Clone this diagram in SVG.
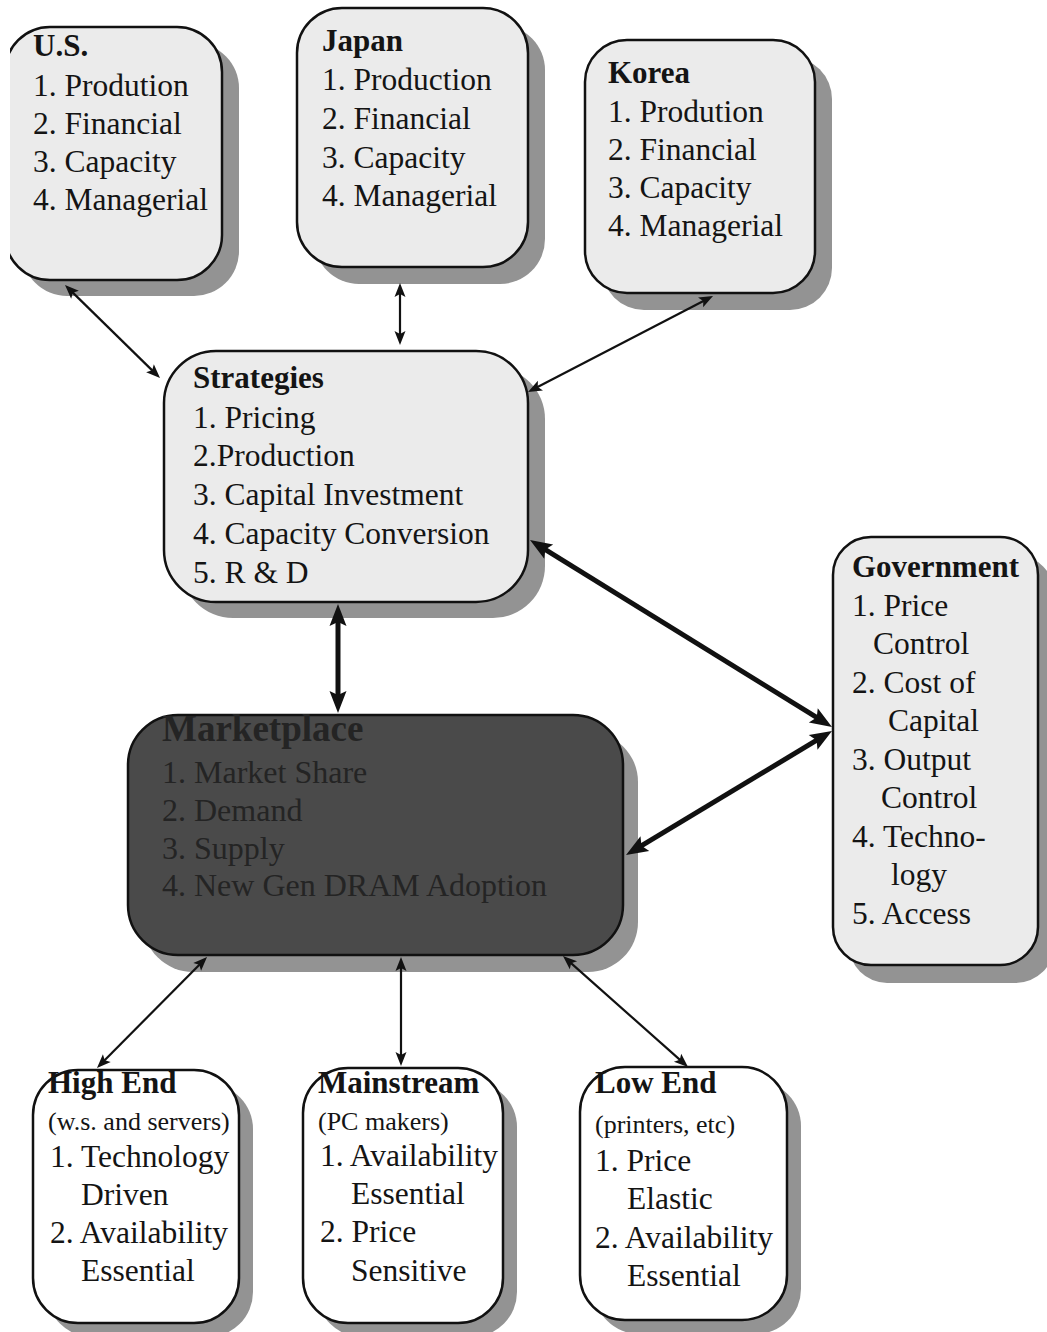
<svg xmlns="http://www.w3.org/2000/svg" width="1047" height="1332" viewBox="0 0 1047 1332">
<style>
.shadow{fill:#939393}
.box{fill:#ebebeb;stroke:#111;stroke-width:2.5}
.wbox{fill:#ffffff;stroke:#111;stroke-width:2.5}
.dbox{fill:#4a4a4a;stroke:#111;stroke-width:2.5}
.t{font-family:"Liberation Serif","Times New Roman",serif;font-size:31.5px;fill:#141414}
.b{font-weight:bold;font-size:31px}
.s{font-size:26px}
.dt{fill:#242424}
.thin{stroke:#111;stroke-width:2.2;fill:none;marker-start:url(#ah);marker-end:url(#ah)}
.thick{stroke:#111;stroke-width:5;fill:none;marker-start:url(#AH);marker-end:url(#AH)}
</style>
<defs>
<marker id="ah" markerUnits="userSpaceOnUse" markerWidth="16" markerHeight="13" refX="7" refY="5.5" orient="auto-start-reverse" overflow="visible">
<path d="M0,0 L14,5.5 L0,11 L3,5.5 z" fill="#111"/>
</marker>
<marker id="AH" markerUnits="userSpaceOnUse" markerWidth="24" markerHeight="18" refX="12" refY="8.5" orient="auto-start-reverse" overflow="visible">
<path d="M0,0 L22,8.5 L0,17 L4,8.5 z" fill="#111"/>
</marker>
<clipPath id="usclip"><rect x="10" y="0" width="400" height="400"/></clipPath>
</defs>
<rect width="1047" height="1332" fill="#fff"/>

<g id="us" clip-path="url(#usclip)">
<rect class="shadow" x="22" y="43" width="217" height="253" rx="45"/>
<rect class="box" x="5" y="27" width="217" height="253" rx="45"/>
<text class="t b" x="33" y="56">U.S.</text>
<text class="t" x="33" y="96">1. Prodution</text>
<text class="t" x="33" y="134">2. Financial</text>
<text class="t" x="33" y="172">3. Capacity</text>
<text class="t" x="33" y="210">4. Managerial</text>
</g>

<g id="japan">
<rect class="shadow" x="314" y="25" width="231" height="259" rx="45"/>
<rect class="box" x="297" y="8" width="231" height="259" rx="45"/>
<text class="t b" x="322" y="51">Japan</text>
<text class="t" x="322" y="90">1. Production</text>
<text class="t" x="322" y="129">2. Financial</text>
<text class="t" x="322" y="168">3. Capacity</text>
<text class="t" x="322" y="206">4. Managerial</text>
</g>

<g id="korea">
<rect class="shadow" x="602" y="57" width="230" height="253" rx="42"/>
<rect class="box" x="585" y="40" width="230" height="253" rx="42"/>
<text class="t b" x="608" y="83">Korea</text>
<text class="t" x="608" y="122">1. Prodution</text>
<text class="t" x="608" y="160">2. Financial</text>
<text class="t" x="608" y="198">3. Capacity</text>
<text class="t" x="608" y="236">4. Managerial</text>
</g>

<g id="strategies">
<rect class="shadow" x="181" y="367" width="364" height="251" rx="52"/>
<rect class="box" x="164" y="351" width="364" height="251" rx="52"/>
<text class="t b" x="193" y="388">Strategies</text>
<text class="t" x="193" y="428">1. Pricing</text>
<text class="t" x="193" y="466">2.Production</text>
<text class="t" x="193" y="505">3. Capital Investment</text>
<text class="t" x="193" y="544">4. Capacity Conversion</text>
<text class="t" x="193" y="583">5. R &amp; D</text>
</g>

<g id="government">
<rect class="shadow" x="849" y="555" width="205" height="428" rx="38"/>
<rect class="box" x="833" y="537" width="205" height="428" rx="38"/>
<text class="t b" x="852" y="577">Government</text>
<text class="t" x="852" y="616">1. Price</text>
<text class="t" x="873" y="654">Control</text>
<text class="t" x="852" y="693">2. Cost of</text>
<text class="t" x="888" y="731">Capital</text>
<text class="t" x="852" y="770">3. Output</text>
<text class="t" x="881" y="808">Control</text>
<text class="t" x="852" y="847">4. Techno-</text>
<text class="t" x="891" y="885">logy</text>
<text class="t" x="852" y="924">5. Access</text>
</g>

<g id="marketplace">
<rect class="shadow" x="143" y="732" width="495" height="240" rx="50"/>
<rect class="dbox" x="128" y="715" width="495" height="240" rx="50"/>
<text class="t b dt" x="162" y="741" style="font-size:37px">Marketplace</text>
<text class="t dt" x="162" y="783" style="font-size:32px">1. Market Share</text>
<text class="t dt" x="162" y="821" style="font-size:32px">2. Demand</text>
<text class="t dt" x="162" y="859" style="font-size:32px">3. Supply</text>
<text class="t dt" x="162" y="896" style="font-size:32px">4. New Gen DRAM Adoption</text>
</g>

<g id="highend">
<rect class="shadow" x="47" y="1084" width="206" height="253" rx="45"/>
<rect class="wbox" x="33" y="1070" width="206" height="253" rx="45"/>
<text class="t b" x="48" y="1093">High End</text>
<text class="t s" x="48" y="1130">(w.s. and servers)</text>
<text class="t" x="50" y="1167">1. Technology</text>
<text class="t" x="81" y="1205">Driven</text>
<text class="t" x="50" y="1243">2. Availability</text>
<text class="t" x="81" y="1281">Essential</text>
</g>

<g id="mainstream">
<rect class="shadow" x="317" y="1082" width="200" height="255" rx="45"/>
<rect class="wbox" x="303" y="1068" width="200" height="255" rx="45"/>
<text class="t b" x="318" y="1093">Mainstream</text>
<text class="t s" x="318" y="1130">(PC makers)</text>
<text class="t" x="320" y="1166">1. Availability</text>
<text class="t" x="351" y="1204">Essential</text>
<text class="t" x="320" y="1242">2. Price</text>
<text class="t" x="351" y="1281">Sensitive</text>
</g>

<g id="lowend">
<rect class="shadow" x="594" y="1081" width="207" height="253" rx="45"/>
<rect class="wbox" x="580" y="1067" width="207" height="253" rx="45"/>
<text class="t b" x="595" y="1093">Low End</text>
<text class="t s" x="595" y="1133">(printers, etc)</text>
<text class="t" x="595" y="1171">1. Price</text>
<text class="t" x="627" y="1209">Elastic</text>
<text class="t" x="595" y="1248">2. Availability</text>
<text class="t" x="627" y="1286">Essential</text>
</g>

<g id="connectors">
<line class="thin" x1="70" y1="289.9" x2="155" y2="373.1"/>
<line class="thin" x1="400" y1="290" x2="400" y2="338"/>
<line class="thin" x1="706.8" y1="299.2" x2="534.2" y2="388.8"/>
<line class="thick" x1="338" y1="614" x2="338" y2="703"/>
<line class="thick" x1="538.5" y1="545.3" x2="823.5" y2="721.7"/>
<line class="thick" x1="634.6" y1="849.8" x2="823.4" y2="736.2"/>
<line class="thin" x1="202.1" y1="962" x2="101.9" y2="1063"/>
<line class="thin" x1="401" y1="964" x2="401" y2="1059"/>
<line class="thin" x1="568.2" y1="960.6" x2="682.8" y2="1062.4"/>
</g>
</svg>
